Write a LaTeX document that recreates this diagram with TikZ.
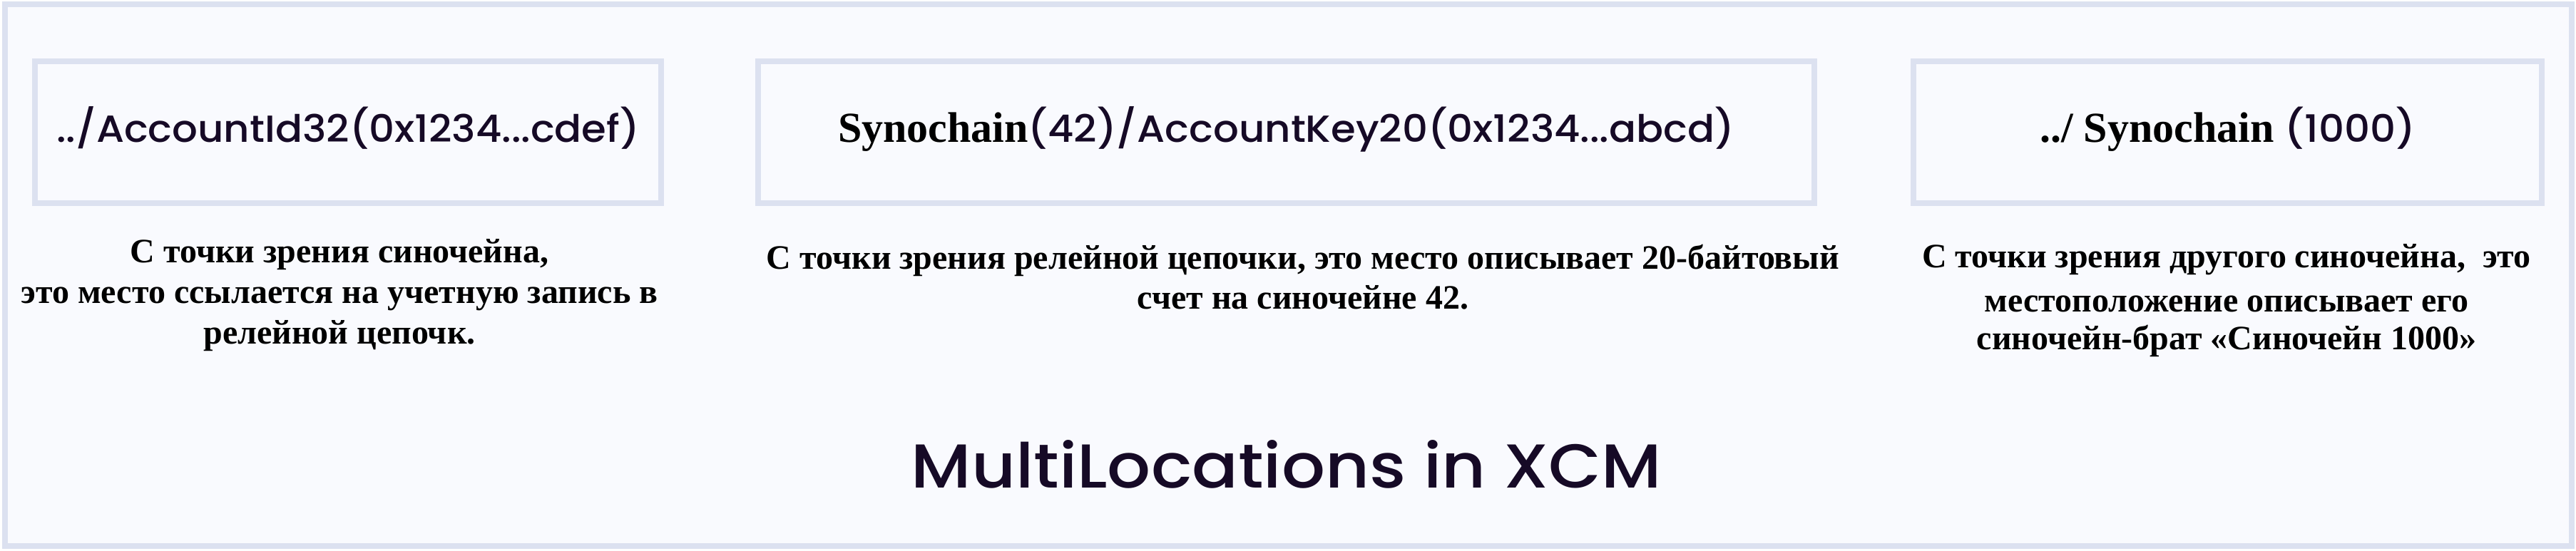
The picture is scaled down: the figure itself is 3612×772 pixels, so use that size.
\documentclass[tikz,border=0pt]{standalone}
\usepackage{fontspec}
\setmainfont{Liberation Serif}
\newfontfamily\xcmfont{Poppins}[UprightFont=* Medium, FakeStretch=1.06]
\newfontfamily\titlefont{Poppins}[UprightFont=* Medium, FakeStretch=1.1]
\usepackage{xcolor}
\usepackage{tikz}

\definecolor{frameblue}{HTML}{DCE1F0}
\definecolor{paper}{HTML}{F9FAFE}
\definecolor{ink}{HTML}{160A26}
\newcommand{\synofont}{\rmfamily\bfseries\color{black}\fontsize{15pt}{18pt}\selectfont}

\begin{document}
\begin{tikzpicture}[x=0.25pt, y=-0.25pt,
    every node/.style = {inner sep=0pt, outer sep=0pt},
    locbox/.style = {draw=frameblue, line width=2pt, fill=paper,
      minimum height=49.75pt, text height=10pt, text depth=3.25pt,
      text=ink, font=\xcmfont\fontsize{13.25pt}{16pt}\selectfont},
    note/.style = {anchor=base,
      font=\bfseries\fontsize{12pt}{#1}\selectfont},
    heading/.style = {anchor=base, text=ink,
      font=\titlefont\fontsize{21.75pt}{26pt}\selectfont}]
  \path[use as bounding box, fill=white] (0,0) rectangle (3612,772);
  \draw[frameblue, line width=2pt, fill=paper] (7,6) rectangle (3606,766);

  % the three locations
  \node[locbox, minimum width=219.5pt] (acct) at (488,185.5)
    {../AccountId32(0x1234...cdef)};
  \node[locbox, minimum width=370.25pt] (key) at (1803.5,185.5)
    {{\synofont Synochain}(42)/AccountKey20(0x1234...abcd)};
  \node[locbox, minimum width=220.25pt] (sibling) at (3123.5,185.5)
    {{\synofont ../ Synochain }(1000)};

  % what each one means
  \node[note=14.25pt] (acctnote) at (476,368)
    {\begin{tabular}[t]{@{}c@{}}
     С точки зрения синочейна,\\
     это место ссылается на учетную запись в\\
     релейной цепочк.
     \end{tabular}};
  \node[note=14pt] (keynote) at (1827,377)
    {\begin{tabular}[t]{@{}c@{}}
     С точки зрения релейной цепочки, это место описывает 20-байтовый\\
     счет на синочейне 42.
     \end{tabular}};
  \node[note=13.25pt] (siblingnote) at (3122,375)
    {\begin{tabular}[t]{@{}c@{}}
     С точки зрения другого синочейна,\ \ это\\[2.25pt]
     местоположение описывает его\\
     синочейн-брат «Синочейн 1000»
     \end{tabular}};

  \node[heading] (title) at (1804,684) {MultiLocations in XCM};
\end{tikzpicture}
\end{document}
